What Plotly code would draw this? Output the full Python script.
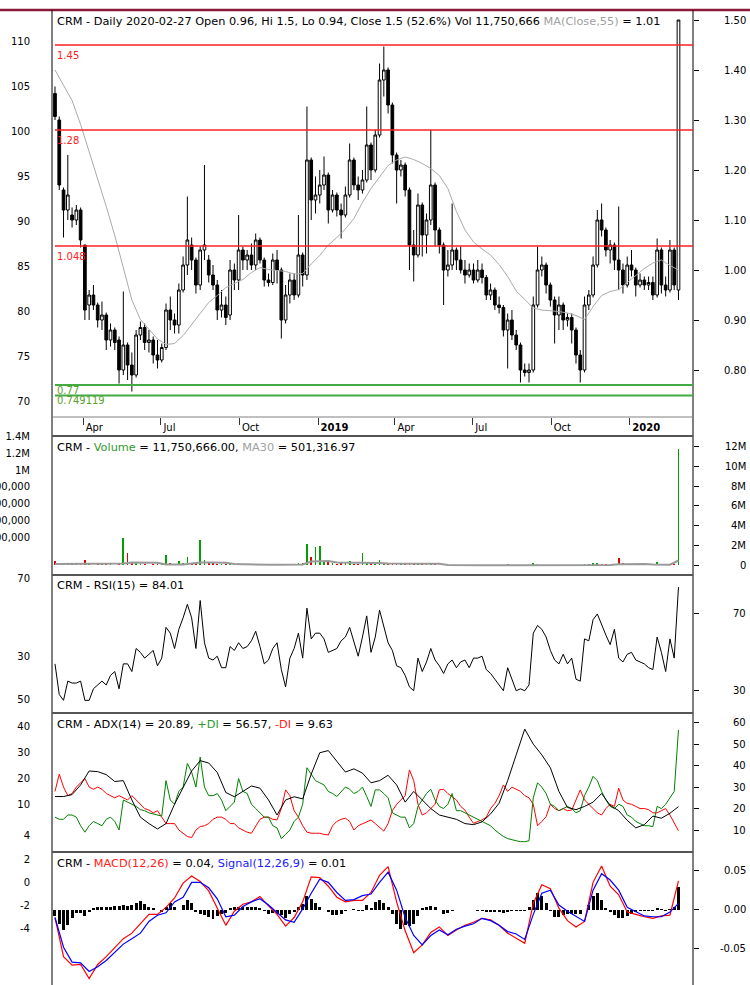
import pandas as pd
import plotly.graph_objects as go

# ---------------- data ----------------
bar_dates = pd.date_range(end="2020-02-27", periods=147, freq="5D")
half_dates = bar_dates[::2]

opens = [1.353, 1.30, 1.16, 1.12, 1.11, 1.10, 1.12, 1.05, 0.93, 0.95,
         0.93, 0.90, 0.91, 0.86, 0.88, 0.86, 0.80, 0.85, 0.81, 0.79,
         0.87, 0.885, 0.855, 0.86, 0.83, 0.82, 0.845, 0.92, 0.90, 0.89,
         0.96, 1.01, 1.05, 1.02, 0.97, 1.04, 1.02, 0.99, 0.97, 0.92,
         0.93, 0.91, 1.0, 0.98, 1.04, 1.02, 1.03, 1.01, 1.06, 1.02,
         0.98, 0.975, 1.02, 1.0, 0.90, 0.95, 0.98, 0.95, 1.03, 0.99,
         1.22, 1.14, 1.15, 1.17, 1.19, 1.12, 1.15, 1.12, 1.11, 1.15,
         1.22, 1.17, 1.16, 1.18, 1.25, 1.20, 1.27, 1.38, 1.40, 1.33,
         1.23, 1.20, 1.21, 1.16, 1.05, 1.03, 1.13, 1.07, 1.10, 1.17,
         1.08, 1.05, 1.0, 1.01, 1.04, 1.02, 1.0, 0.99, 1.0, 0.98,
         1.0, 0.985, 0.95, 0.96, 0.93, 0.925, 0.88, 0.90, 0.87, 0.85,
         0.80, 0.795, 0.80, 0.93, 1.0, 1.01, 0.97, 0.94, 0.91, 0.93,
         0.90, 0.905, 0.88, 0.83, 0.80, 0.93, 0.95, 1.01, 1.10, 1.08,
         1.04, 1.05, 1.02, 1.0, 0.97, 1.01, 1.0, 0.97, 0.98, 0.97,
         0.975, 0.95, 1.04, 0.97, 0.96, 1.04, 0.96]
highs = [1.367, 1.307, 1.165, 1.23, 1.125, 1.13, 1.125, 1.05, 0.96, 0.97,
         0.935, 0.937, 0.915, 0.893, 0.885, 0.867, 0.957, 0.855, 0.835, 0.88,
         0.897, 0.893, 0.88, 0.867, 0.86, 0.853, 0.933, 0.947, 0.913, 0.973,
         1.027, 1.147, 1.065, 1.025, 1.047, 1.21, 1.03, 1.01, 0.98, 0.96,
         0.947, 1.02, 1.013, 1.11, 1.047, 1.04, 1.053, 1.073, 1.065, 1.025,
         0.993, 1.033, 1.04, 1.005, 0.97, 0.993, 0.993, 1.11, 1.035, 1.327,
         1.225, 1.187, 1.20, 1.227, 1.195, 1.16, 1.155, 1.133, 1.167, 1.253,
         1.225, 1.187, 1.20, 1.327, 1.255, 1.28, 1.413, 1.447, 1.405, 1.335,
         1.235, 1.22, 1.215, 1.165, 1.08, 1.153, 1.135, 1.113, 1.28, 1.175,
         1.085, 1.055, 1.04, 1.133, 1.045, 1.047, 1.02, 1.013, 1.013, 1.02,
         1.013, 0.99, 0.973, 0.965, 0.947, 0.93, 0.913, 0.92, 0.88, 0.855,
         0.813, 0.813, 0.947, 1.047, 1.027, 1.015, 0.975, 0.947, 0.947, 0.935,
         0.913, 0.913, 0.885, 0.84, 0.947, 0.96, 1.027, 1.12, 1.133, 1.085,
         1.06, 1.055, 1.127, 1.013, 1.027, 1.04, 1.005, 0.993, 0.987, 0.987,
         0.987, 1.063, 1.045, 0.987, 1.06, 1.045, 1.5]
lows = [1.30, 1.16, 1.065, 1.10, 1.085, 1.09, 1.045, 0.90, 0.90, 0.92,
        0.885, 0.88, 0.84, 0.847, 0.84, 0.773, 0.79, 0.78, 0.757, 0.785,
        0.86, 0.84, 0.835, 0.813, 0.803, 0.815, 0.84, 0.88, 0.873, 0.873,
        0.955, 0.99, 1.0, 0.953, 0.96, 1.02, 0.975, 0.96, 0.90, 0.905,
        0.89, 0.90, 0.96, 0.96, 1.0, 1.0, 1.0, 1.0, 1.013, 0.967,
        0.967, 0.97, 0.973, 0.863, 0.893, 0.933, 0.94, 0.945, 0.967, 0.98,
        1.10, 1.113, 1.133, 1.16, 1.093, 1.115, 1.107, 1.063, 1.105, 1.145,
        1.16, 1.14, 1.153, 1.175, 1.18, 1.195, 1.265, 1.347, 1.313, 1.213,
        1.133, 1.187, 1.147, 1.0, 0.977, 1.025, 1.027, 1.033, 1.09, 1.047,
        1.033, 0.93, 0.987, 1.0, 1.0, 0.993, 0.973, 0.985, 0.973, 0.975,
        0.973, 0.94, 0.94, 0.92, 0.913, 0.867, 0.803, 0.86, 0.84, 0.775,
        0.787, 0.775, 0.795, 0.925, 0.987, 0.953, 0.927, 0.853, 0.88, 0.88,
        0.887, 0.853, 0.813, 0.775, 0.795, 0.92, 0.945, 1.005, 1.067, 1.027,
        1.013, 1.0, 0.96, 0.953, 0.965, 0.987, 0.947, 0.965, 0.96, 0.96,
        0.94, 0.945, 0.953, 0.947, 0.955, 0.96, 0.94]
closes = [1.307, 1.17, 1.12, 1.15, 1.10, 1.12, 1.06, 0.92, 0.95, 0.93,
          0.90, 0.91, 0.86, 0.88, 0.855, 0.80, 0.85, 0.81, 0.79, 0.87,
          0.885, 0.855, 0.86, 0.83, 0.82, 0.845, 0.92, 0.90, 0.89, 0.96,
          1.01, 1.06, 1.02, 0.97, 1.04, 1.05, 0.99, 0.97, 0.92, 0.93,
          0.905, 1.0, 0.98, 1.04, 1.02, 1.03, 1.01, 1.06, 1.02, 0.98,
          0.975, 1.02, 1.0, 0.90, 0.95, 0.98, 0.95, 1.03, 0.99, 1.22,
          1.14, 1.15, 1.17, 1.19, 1.12, 1.15, 1.12, 1.11, 1.15, 1.22,
          1.17, 1.16, 1.18, 1.25, 1.20, 1.27, 1.38, 1.40, 1.33, 1.23,
          1.20, 1.21, 1.16, 1.05, 1.03, 1.13, 1.07, 1.10, 1.17, 1.08,
          1.05, 1.0, 1.01, 1.04, 1.02, 1.00, 0.99, 1.0, 0.98, 1.0,
          0.985, 0.95, 0.96, 0.93, 0.925, 0.88, 0.90, 0.87, 0.85, 0.80,
          0.795, 0.80, 0.93, 1.00, 1.01, 0.97, 0.94, 0.91, 0.93, 0.90,
          0.905, 0.88, 0.83, 0.80, 0.93, 0.95, 1.01, 1.10, 1.08, 1.04,
          1.05, 1.02, 1.0, 0.97, 1.01, 1.0, 0.97, 0.98, 0.97, 0.975,
          0.95, 1.04, 0.97, 0.96, 1.04, 0.97, 1.5]
ma55 = [1.40, 1.37, 1.339, 1.291, 1.236, 1.186, 1.127, 1.069, 1.003, 0.94,
        0.901, 0.881, 0.862, 0.851, 0.853, 0.869, 0.89, 0.913, 0.935, 0.949,
        0.965, 0.973, 0.981, 0.995, 1.005, 1.001, 0.999, 0.997, 0.992, 0.993,
        1.012, 1.029, 1.05, 1.065, 1.082, 1.103, 1.135, 1.163, 1.186, 1.209,
        1.22, 1.226, 1.221, 1.213, 1.203, 1.189, 1.163, 1.117, 1.08, 1.056,
        1.042, 1.03, 1.011, 0.987, 0.958, 0.942, 0.924, 0.92, 0.919, 0.917,
        0.914, 0.909, 0.901, 0.927, 0.949, 0.957, 0.961, 0.975, 0.989, 1.003,
        1.014, 1.02, 1.009, 1.0]
red_levels = [1.45, 1.28, 1.048]
green_levels = [0.77, 0.749119]

volume_m = [0.5, 0.3, 0.15, 0.2, 0.1, 0.12, 0.15, 0.6, 0.1, 0.08,
            0.12, 0.1, 0.15, 0.1, 0.08, 0.1, 2.76, 1.3, 0.3, 0.2,
            0.1, 0.12, 0.08, 0.1, 0.12, 0.15, 1.07, 0.2, 0.15, 0.46,
            0.2, 0.9, 0.3, 0.25, 2.59, 0.6, 0.3, 0.2, 0.15, 0.1,
            0.12, 0.1, 0.08, 0.3, 0.1, 0.08, 0.1, 0.12, 0.06, 0.08,
            0.05, 0.06, 0.08, 0.1, 0.06, 0.05, 0.07, 0.2, 0.3, 2.15,
            0.9, 1.9, 2.0, 0.5, 0.4, 0.2, 0.15, 0.25, 0.2, 0.5,
            0.15, 0.1, 1.3, 0.3, 0.2, 0.15, 0.6, 0.3, 0.2, 0.25,
            0.15, 0.1, 0.15, 0.3, 0.2, 0.15, 0.1, 0.12, 0.2, 0.1,
            0.08, 0.05, 0.04, 0.06, 0.03, 0.04, 0.03, 0.05, 0.03, 0.04,
            0.03, 0.05, 0.04, 0.06, 0.05, 0.08, 0.1, 0.05, 0.06, 0.08,
            0.05, 0.06, 0.3, 0.1, 0.05, 0.04, 0.03, 0.06, 0.04, 0.03,
            0.04, 0.03, 0.05, 0.06, 0.1, 0.15, 0.3, 0.2, 0.12, 0.1,
            0.08, 0.1, 0.73, 0.2, 0.1, 0.08, 0.1, 0.06, 0.05, 0.04,
            0.1, 0.35, 0.08, 0.06, 0.15, 0.1, 11.75]
vol_ma30_m = [0.15, 0.15, 0.16, 0.15, 0.14, 0.15, 0.14, 0.13, 0.2, 0.3,
              0.3, 0.3, 0.28, 0.1, 0.08, 0.1, 0.2, 0.3, 0.3, 0.3,
              0.28, 0.15, 0.12, 0.08, 0.07, 0.07, 0.07, 0.07, 0.07, 0.1,
              0.4, 0.45, 0.45, 0.3, 0.3, 0.3, 0.25, 0.25, 0.25, 0.2,
              0.2, 0.2, 0.2, 0.2, 0.2, 0.18, 0.05, 0.03, 0.03, 0.03,
              0.03, 0.03, 0.03, 0.03, 0.03, 0.03, 0.03, 0.03, 0.03, 0.03,
              0.03, 0.03, 0.04, 0.05, 0.05, 0.06, 0.12, 0.15, 0.15, 0.15,
              0.1, 0.08, 0.08, 0.5]

rsi = [44, 28, 25, 35, 34, 34, 35, 25, 25, 31,
       33, 35, 33, 38, 40, 31, 44, 44, 40, 52,
       50, 47, 49, 51, 43, 47, 63, 60, 52, 62,
       68, 75, 68, 52, 77, 55, 47, 46, 48, 42,
       42, 53, 51, 55, 52, 53, 56, 61, 53, 44,
       46, 52, 55, 41, 32, 47, 52, 60, 47, 73,
       57, 60, 60, 57, 50, 51, 52, 56, 58, 63,
       55, 48, 58, 69, 50, 58, 72, 64, 55, 51,
       43, 42, 38, 32, 30, 47, 40, 45, 52, 46,
       43, 39, 44, 46, 42, 45, 46, 42, 47, 47,
       48, 41, 39, 36, 33, 30, 42, 36, 30, 31,
       30, 33, 60, 64, 62, 58, 51, 46, 44, 49,
       44, 47, 36, 35, 57, 56, 67, 70, 64, 59,
       54, 62, 47, 45, 49, 50, 46, 45, 44, 42,
       41, 58, 50, 40, 57, 47, 84.01]

adx = [25.6, 25.6, 26.5, 31, 37.5, 37.2, 35.8, 32.6, 33.0, 24,
       16, 13, 10.5, 13, 22, 30, 37.5, 42.3, 41.2, 36.8,
       27.5, 25.5, 28, 30.5, 29.5, 24, 17, 24, 25.5, 24.5,
       36, 46, 47, 42, 37, 38.5, 36.5, 32, 33, 35.5,
       31, 23, 28, 24, 20, 17, 16, 15, 13, 12.5,
       13.8, 17.5, 22.5, 33, 45, 57, 50, 45, 39, 28,
       20.5, 19.5, 21, 23, 27, 21.5, 19, 14.5, 11, 12.5,
       16.5, 15.5, 17.8, 20.89]
plus_di = [16, 15, 15, 17, 17, 16, 12, 9, 12, 14,
           13, 12, 15, 16, 14, 10, 24, 23, 22, 21,
           19.5, 19, 18, 17.5, 17, 16.5, 33, 24, 22, 28,
           30, 41, 37, 30, 44, 30, 26, 26, 27, 24,
           19, 21, 23, 34, 28, 27, 22, 20, 18, 16,
           16, 12, 11, 6, 8, 10, 14, 16, 22, 39,
           36, 33, 32, 31, 28, 27, 25.6, 28, 30, 29,
           27, 28, 30, 25.6, 21, 28.7, 28.7, 27, 25, 18,
           17, 16, 16, 11, 13, 21, 24, 27, 29, 24,
           21, 20, 22, 27, 19, 19, 18, 17, 16, 15,
           14, 13, 12, 10, 8.5, 7, 6, 5.4, 5, 4.6,
           4.6, 5, 25, 32, 30, 27, 22, 21, 19, 20,
           21, 20, 18, 19, 26, 30, 35, 33, 28, 24,
           21, 20, 22, 21, 17, 16, 14, 13, 12, 12,
           11.6, 21, 20, 22, 25, 28, 56.57]
minus_di = [28, 36, 30, 26, 27, 30, 32, 34, 30, 29,
            30, 29, 27, 26, 25, 26, 25, 24, 26, 24,
            22, 20, 19.3, 18, 19, 16, 13, 13, 13, 10,
            8.5, 7, 6.5, 10, 11.6, 12, 13, 15, 16, 16,
            15, 13, 13, 11, 10, 9, 8.5, 12, 15, 16,
            16, 15, 14.7, 20, 28.7, 26, 19, 16, 12, 9,
            8.5, 8.5, 8.5, 8, 7.7, 12, 14, 15, 15.5, 14,
            10, 12, 13, 14, 14.7, 13, 11, 9.5, 13, 19,
            22, 24, 26, 38, 33, 22, 17, 18, 20, 22,
            28.7, 29, 27, 25.6, 24, 21, 19.3, 16, 13.1, 14,
            14.7, 16, 20, 22.4, 26, 31, 28, 30, 29, 28,
            26, 25, 22, 12, 14, 16.2, 22, 20, 19, 20,
            19, 19.3, 24, 28.7, 24, 22, 20, 18, 17, 20,
            22, 21, 29.5, 24, 22.4, 22, 21, 20, 20, 19.5,
            18, 18, 19, 20, 17, 13, 9.63]

macd = [-0.010, -0.060, -0.071, -0.070, -0.088, -0.070, -0.060, -0.048, -0.037, -0.030,
        -0.018, -0.006, -0.006, 0.003, 0.015, 0.034, 0.043, 0.036, 0.024, 0.002,
        -0.020, -0.002, 0.007, 0.010, 0.017, 0.005, -0.006, -0.021, -0.010, 0.010,
        0.042, 0.041, 0.030, 0.016, 0.010, 0.012, 0.012, 0.022, 0.044, 0.055,
        0.010, -0.027, -0.055, -0.045, -0.029, -0.022, -0.033, -0.026, -0.020, -0.016,
        -0.011, -0.013, -0.020, -0.030, -0.036, -0.043, 0.008, 0.032, 0.027, 0.002,
        -0.014, -0.022, -0.015, 0.035, 0.056, 0.030, 0.019, -0.003, -0.006, -0.009,
        -0.011, -0.008, -0.007, 0.037]
signal = [-0.010, -0.048, -0.067, -0.068, -0.079, -0.073, -0.065, -0.054, -0.044, -0.037,
          -0.030, -0.015, -0.007, -0.004, 0.010, 0.016, 0.035, 0.035, 0.028, 0.014,
          -0.009, -0.007, 0.004, 0.010, 0.014, 0.006, -0.003, -0.013, -0.016, 0.001,
          0.021, 0.039, 0.035, 0.022, 0.012, 0.013, 0.018, 0.020, 0.035, 0.048,
          0.025, -0.010, -0.033, -0.045, -0.033, -0.026, -0.032, -0.025, -0.021, -0.018,
          -0.011, -0.014, -0.020, -0.028, -0.031, -0.038, -0.006, 0.021, 0.025, 0.006,
          -0.002, -0.008, -0.015, 0.025, 0.046, 0.038, 0.025, 0.003, -0.003, -0.008,
          -0.009, -0.009, -0.003, 0.008]
hist = [-0.008, -0.018, -0.026, -0.02, -0.01, -0.004, -0.004, -0.008, -0.003, 0.002,
        0.003, 0.003, 0.004, 0.004, 0.005, 0.005, 0.006, 0.005, 0.006, 0.009,
        0.011, 0.007, 0.004, 0.002, -0.001, -0.003, 0.004, 0.008, 0.004, 0.0,
        0.006, 0.012, 0.008, -0.003, -0.005, -0.007, -0.009, -0.012, -0.008, -0.006,
        -0.004, 0.002, 0.004, 0.004, 0.003, 0.003, 0.004, 0.003, 0.002, -0.002,
        -0.006, -0.004, -0.005, -0.007, -0.01, -0.006, -0.003, 0.003, 0.007, 0.018,
        0.014, 0.008, 0.003, 0.0, -0.003, -0.007, -0.007, -0.005, -0.002, 0.0,
        0.001, -0.002, -0.002, 0.006, 0.002, 0.01, 0.012, 0.008, 0.004, -0.006,
        -0.018, -0.025, -0.02, -0.021, -0.018, -0.008, 0.002, 0.004, 0.005, 0.004,
        0.0, -0.005, -0.004, -0.002, -0.001, -0.001, -0.001, 0.0, 0.0, -0.002,
        -0.002, -0.003, -0.003, -0.003, -0.003, -0.004, -0.003, -0.002, -0.002, -0.002,
        -0.002, 0.004, 0.012, 0.021, 0.018, 0.009, -0.002, -0.009, -0.009, -0.007,
        -0.006, -0.005, -0.005, -0.006, 0.0, 0.006, 0.018, 0.022, 0.012, 0.002,
        -0.003, -0.007, -0.011, -0.01, -0.008, -0.005, -0.003, -0.002, -0.002, -0.002,
        -0.002, 0.002, 0.001, -0.002, 0.001, 0.003, 0.029]

# tick labels
date_ticks = ["2018-04-01", "2018-07-01", "2018-10-01", "2019-01-01",
              "2019-04-01", "2019-07-01", "2019-10-01", "2020-01-01"]
date_labels = ["Apr", "Jul", "Oct", "<b>2019</b>", "Apr", "Jul", "Oct", "<b>2020</b>"]

price_right_ticks = [0.8, 0.9, 1.0, 1.1, 1.2, 1.3, 1.4, 1.5]
price_left_ticks = [70, 75, 80, 85, 90, 95, 100, 105, 110]
vol_right_ticks = [0, 2, 4, 6, 8, 10, 12]
vol_right_labels = ["0", "2M", "4M", "6M", "8M", "10M", "12M"]
vol_left_ticks = [0.2, 0.4, 0.6, 0.8, 1.0, 1.2, 1.4]
vol_left_labels = ["200,000", "400,000", "600,000", "800,000", "1M", "1.2M", "1.4M"]
rsi_right_ticks = [30, 70]
rsi_left_ticks = [70, 30, 8.4]
rsi_left_labels = ["70", "30", "50"]
adx_right_ticks = [10, 20, 30, 40, 50, 60]
adx_left_ticks = [40, 30, 20, 10, -2.1]
adx_left_labels = ["40", "30", "20", "10", "4"]
macd_right_ticks = [-0.05, 0.0, 0.05]
macd_right_labels = ["-0.05", "0.00", "0.05"]
macd_left_ticks = [2, 0, -2, -4]

# ---------------- layout geometry (pixels) ----------------
W, H = 750, 985
ML, MT = 52, 10
PW, PH = W - ML, H - MT
RIGHT_PX = 693


def fx(px):
    return (px - ML) / PW


def fy(py):
    return (H - py) / PH


XR = fx(RIGHT_PX)
panels = {  # (top_px, bottom_px)
    "price": (10, 417), "vol": (436, 575), "rsi": (575, 713),
    "adx": (713, 852), "macd": (852, 985),
}

FONT = "DejaVu Sans"
FS = 10
TFS = 11.3

fig = go.Figure()

# price
fig.add_trace(go.Candlestick(
    x=bar_dates, open=opens, high=highs, low=lows, close=closes,
    increasing=dict(line=dict(color="black", width=1), fillcolor="white"),
    decreasing=dict(line=dict(color="black", width=1), fillcolor="black"),
    whiskerwidth=0, yaxis="y", xaxis="x", hoverinfo="skip"))
fig.add_trace(go.Scatter(x=half_dates, y=ma55, mode="lines",
                         line=dict(color="#aaaaaa", width=1), yaxis="y"))

# volume
vol_colors = ["#00a000" if c >= o else "#e00000" for o, c in zip(opens, closes)]
fig.add_trace(go.Bar(x=bar_dates, y=volume_m, marker=dict(color=vol_colors, line=dict(width=0)),
                     width=2 * 86400000, yaxis="y2"))
fig.add_trace(go.Scatter(x=half_dates, y=vol_ma30_m, mode="lines",
                         line=dict(color="#999999", width=2), yaxis="y2"))

# RSI
fig.add_trace(go.Scatter(x=bar_dates, y=rsi, mode="lines",
                         line=dict(color="black", width=1), yaxis="y3"))

# ADX
fig.add_trace(go.Scatter(x=bar_dates, y=minus_di, mode="lines",
                         line=dict(color="#ff0000", width=1), yaxis="y4"))
fig.add_trace(go.Scatter(x=bar_dates, y=plus_di, mode="lines",
                         line=dict(color="#008000", width=1), yaxis="y4"))
fig.add_trace(go.Scatter(x=half_dates, y=adx, mode="lines",
                         line=dict(color="black", width=1), yaxis="y4"))

# MACD
fig.add_trace(go.Bar(x=bar_dates, y=hist, marker=dict(color="black", line=dict(width=0)),
                     width=3.5 * 86400000, yaxis="y5"))
fig.add_trace(go.Scatter(x=half_dates, y=macd, mode="lines",
                         line=dict(color="#ff0000", width=1.2), yaxis="y5"))
fig.add_trace(go.Scatter(x=half_dates, y=signal, mode="lines",
                         line=dict(color="#0000ff", width=1.2), yaxis="y5"))

# dummy traces so the left label-only axes are drawn
for i in range(6, 11):
    fig.add_trace(go.Scatter(x=[None], y=[None], yaxis=f"y{i}", showlegend=False,
                             hoverinfo="skip"))

base_axis = dict(showgrid=False, zeroline=False, showline=False, automargin=False,
                 fixedrange=True)

specs = [
    # panel, right range, right ticks, right labels, left range, left ticks, left labels
    ("price", [0.706, 1.52], price_right_ticks, [f"{v:.2f}" for v in price_right_ticks],
     [68.24, 113.56], price_left_ticks, [str(v) for v in price_left_ticks]),
    ("vol", [-0.96, 13.05], vol_right_ticks, vol_right_labels,
     [-0.245, 1.405], vol_left_ticks, vol_left_labels),
    ("rsi", [18.4, 90.3], rsi_right_ticks, [str(v) for v in rsi_right_ticks],
     [1.28, 71.7], rsi_left_ticks, rsi_left_labels),
    ("adx", [-0.23, 64.5], adx_right_ticks, [str(v) for v in adx_right_ticks],
     [-8.46, 45.0], adx_left_ticks, adx_left_labels),
    ("macd", [-0.0963, 0.0738], macd_right_ticks, macd_right_labels,
     [-8.96, 2.70], macd_left_ticks, [str(v) for v in macd_left_ticks]),
]

annotations = []
layout_axes = {}
for i, (name, rr, rt, rl, lr, lt, ll) in enumerate(specs):
    top, bot = panels[name]
    main = i + 1
    main_key = "yaxis" if main == 1 else f"yaxis{main}"
    main_ref = "y" if main == 1 else f"y{main}"
    layout_axes[main_key] = dict(base_axis, domain=[fy(bot), fy(top)], anchor="x", side="right",
                                 range=rr, tickvals=rt, ticks="outside", ticklen=5,
                                 tickcolor="black", tickwidth=1, showticklabels=False)
    # right labels, right aligned near the page edge
    for v, t in zip(rt, rl):
        annotations.append(dict(xref="paper", yref=main_ref, x=fx(748), y=v, text=t,
                                showarrow=False, xanchor="right", yanchor="middle",
                                font=dict(family=FONT, size=FS, color="black")))
    # left labels
    layout_axes[f"yaxis{6 + i}"] = dict(base_axis, overlaying=main_ref, anchor="x",
                                        side="left", range=lr, tickvals=lt, ticktext=ll,
                                        ticks="", showticklabels=True, ticklabelstandoff=21,
                                        tickfont=dict(family=FONT, size=FS, color="black"))

shapes = []
# top maroon rule
shapes.append(dict(type="line", xref="paper", yref="paper", x0=fx(0), x1=fx(W),
                   y0=fy(10), y1=fy(10), line=dict(color="#8b1a3a", width=2.5)))
# borders
shapes.append(dict(type="line", xref="paper", yref="paper", x0=fx(ML), x1=fx(ML),
                   y0=fy(H), y1=fy(10), line=dict(color="black", width=1)))
shapes.append(dict(type="line", xref="paper", yref="paper", x0=XR, x1=XR,
                   y0=fy(H), y1=fy(10), line=dict(color="black", width=1)))
shapes.append(dict(type="line", xref="paper", yref="paper", x0=0, x1=XR,
                   y0=fy(417), y1=fy(417), line=dict(color="#808080", width=1)))
for py in (436, 575, 713, 852):
    shapes.append(dict(type="line", xref="paper", yref="paper", x0=0, x1=XR,
                       y0=fy(py), y1=fy(py), line=dict(color="#555555", width=2)))
# price levels
for lv in red_levels:
    shapes.append(dict(type="line", xref="paper", yref="y", x0=fx(55), x1=XR, y0=lv, y1=lv,
                       line=dict(color="#ff2020", width=1.5)))
for lv in green_levels:
    shapes.append(dict(type="line", xref="paper", yref="y", x0=fx(55), x1=XR, y0=lv, y1=lv,
                       line=dict(color="#44aa44", width=2)))

for lv in red_levels:
    annotations.append(dict(xref="paper", yref="y", x=fx(55), y=lv, text=str(lv),
                            showarrow=False, xanchor="left", yanchor="top", yshift=-3,
                            font=dict(family=FONT, size=FS, color="#ff2020")))
for lv in green_levels:
    annotations.append(dict(xref="paper", yref="y", x=fx(55), y=lv, text=str(lv),
                            showarrow=False, xanchor="left", yanchor="top", yshift=2,
                            font=dict(family=FONT, size=FS, color="#5aa02c")))

GRAY = "#a0a0a0"
titles = {
    "price": "CRM - Daily 2020-02-27 Open 0.96, Hi 1.5, Lo 0.94, Close 1.5 (52.6%) Vol 11,750,666 "
             f"<span style='color:{GRAY}'>MA(Close,55)</span> = 1.01",
    "vol": "CRM - <span style='color:#2e9a2e'>Volume</span> = 11,750,666.00, "
           f"<span style='color:{GRAY}'>MA30</span> = 501,316.97",
    "rsi": "CRM - RSI(15) = 84.01",
    "adx": "CRM - ADX(14) = 20.89, <span style='color:#2e9a2e'>+DI</span> = 56.57, "
           "<span style='color:#ff2020'>-DI</span> = 9.63",
    "macd": "CRM - <span style='color:#ff2020'>MACD(12,26)</span> = 0.04, "
            "<span style='color:#2020ff'>Signal(12,26,9)</span> = 0.01",
}
for name, txt in titles.items():
    top = panels[name][0]
    annotations.append(dict(xref="paper", yref="paper", x=fx(55), y=fy(top), text=txt,
                            showarrow=False, xanchor="left", yanchor="middle", yshift=-11,
                            font=dict(family=FONT, size=TFS, color="black")))

fig.update_layout(
    template="none",
    width=W, height=H,
    margin=dict(l=ML, r=0, t=MT, b=0, pad=0),
    paper_bgcolor="white", plot_bgcolor="white",
    showlegend=False, bargap=0, boxgap=0.1,
    font=dict(family=FONT, size=FS, color="black"),
    xaxis=dict(base_axis, type="date", domain=[0, XR], anchor="y",
               range=["2018-02-23 12:00", "2020-03-15"],
               tickvals=date_ticks, ticktext=date_labels, ticks="outside", ticklen=7,
               tickcolor="#333333", ticklabelposition="outside right",
               ticklabelstandoff=1, ticklabelshift=2,
               tickfont=dict(family=FONT, size=FS, color="black"),
               rangeslider=dict(visible=False)),
    shapes=shapes, annotations=annotations,
    **layout_axes,
)

fig.write_html("out.html", config={"displayModeBar": False, "staticPlot": True},
               post_script="document.body.style.margin='0px';")
